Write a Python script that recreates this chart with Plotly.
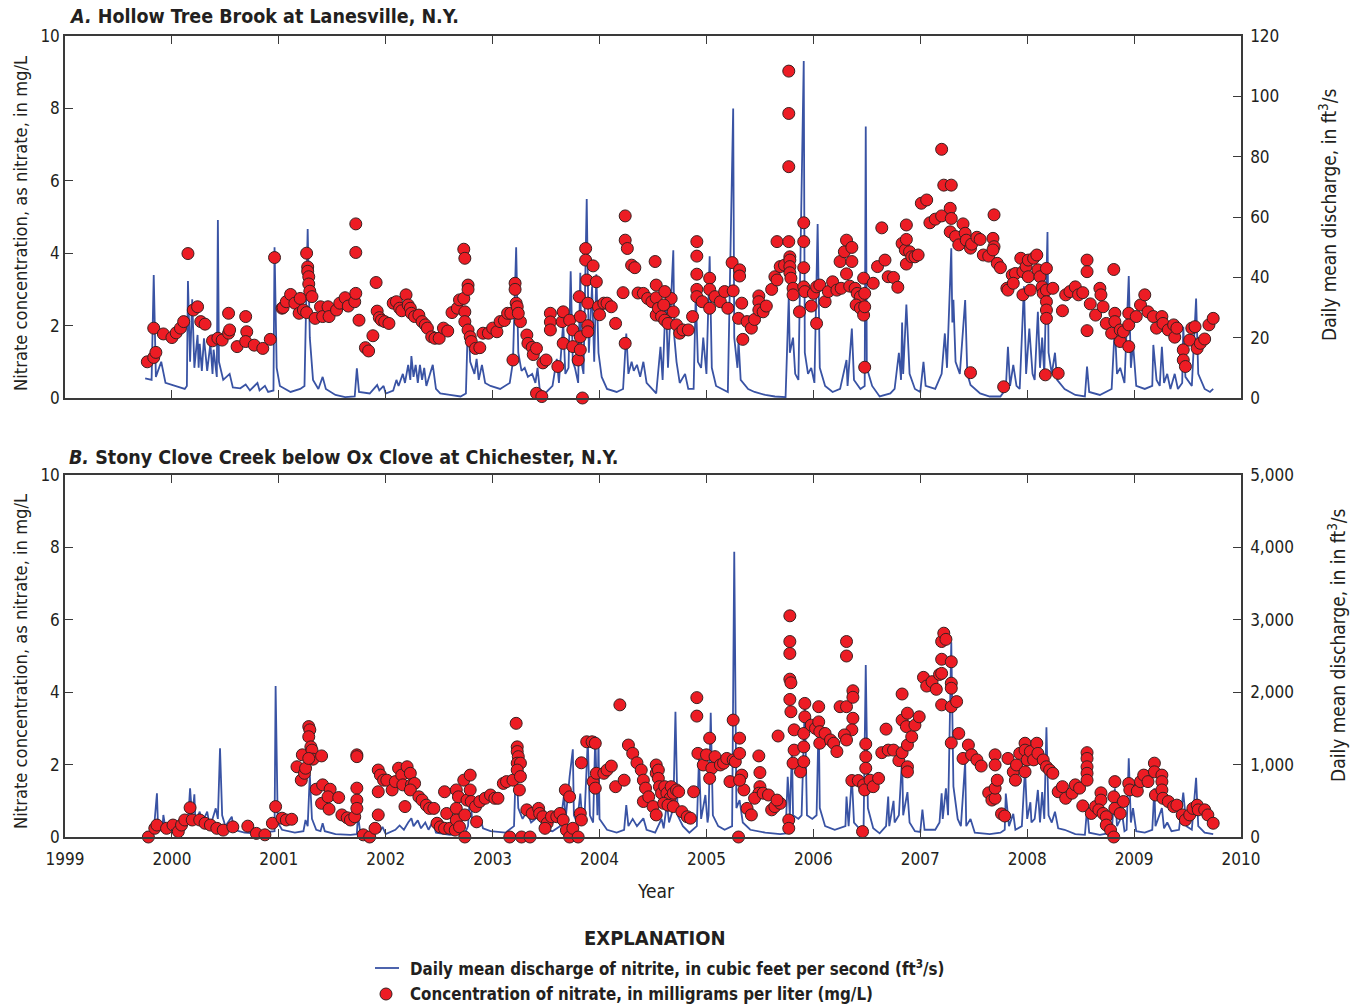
import plotly.graph_objects as go

FONT = "Liberation Sans Narrow, DejaVu Sans Condensed, Arial Narrow, sans-serif"
INK = "#231f20"
BLUE = "#3953a4"
RED = "#ed1c24"
EDGE = "#3a2020"

YEAR_TICKS = list(range(1999, 2011))
YEAR_LABELS = [str(y) for y in YEAR_TICKS]

# ---- A. Hollow Tree Brook at Lanesville: nitrate samples (decimal year, mg/L)
hollow_nitrate = [
    (1999.77, 1.00), (1999.83, 1.12), (1999.85, 1.26), (1999.83, 1.93), (1999.92, 1.77),
    (2000.00, 1.67), (2000.04, 1.80), (2000.08, 1.93), (2000.11, 2.11), (2000.15, 3.99),
    (2000.20, 2.43), (2000.24, 2.52), (2000.27, 2.11), (2000.31, 2.04), (2000.38, 1.58),
    (2000.43, 1.65), (2000.47, 1.60), (2000.53, 1.79), (2000.54, 1.88), (2000.53, 2.34),
    (2000.61, 1.42), (2000.69, 2.25), (2000.70, 1.83), (2000.69, 1.56), (2000.77, 1.46),
    (2000.85, 1.37), (2000.92, 1.62), (2000.96, 3.88), (2001.03, 2.48), (2001.04, 2.50),
    (2001.07, 2.66), (2001.11, 2.86), (2001.15, 2.62), (2001.19, 2.34), (2001.20, 2.75),
    (2001.23, 2.43), (2001.26, 2.36), (2001.26, 4.00), (2001.27, 3.62), (2001.27, 3.50),
    (2001.28, 3.35), (2001.28, 3.15), (2001.29, 2.95), (2001.31, 2.80), (2001.34, 2.20),
    (2001.39, 2.52), (2001.41, 2.25), (2001.46, 2.52), (2001.47, 2.25), (2001.54, 2.43),
    (2001.57, 2.62), (2001.62, 2.77), (2001.65, 2.54), (2001.71, 2.66), (2001.72, 2.89),
    (2001.72, 4.81), (2001.72, 4.02), (2001.75, 2.15), (2001.81, 1.39), (2001.84, 1.30),
    (2001.88, 1.72), (2001.91, 3.19), (2001.92, 2.40), (2001.94, 2.22), (2001.96, 2.15),
    (2001.99, 2.11), (2002.03, 2.06), (2002.07, 2.62), (2002.10, 2.66), (2002.13, 2.48),
    (2002.15, 2.41), (2002.19, 2.85), (2002.21, 2.57), (2002.23, 2.48), (2002.24, 2.34),
    (2002.27, 2.25), (2002.31, 2.29), (2002.34, 2.11), (2002.37, 2.02), (2002.39, 1.93),
    (2002.43, 1.69), (2002.46, 1.65), (2002.50, 1.65), (2002.54, 1.93), (2002.58, 1.85),
    (2002.62, 2.36), (2002.67, 2.48), (2002.69, 2.71), (2002.73, 4.11), (2002.74, 3.86),
    (2002.73, 2.75), (2002.74, 2.38), (2002.74, 2.11), (2002.77, 3.12), (2002.77, 3.00),
    (2002.77, 1.88), (2002.79, 1.69), (2002.80, 1.56), (2002.84, 1.37), (2002.88, 1.39),
    (2002.91, 1.79), (2002.96, 1.79), (2003.00, 1.93), (2003.04, 1.83), (2003.07, 2.11),
    (2003.11, 2.14), (2003.14, 2.34), (2003.17, 2.34), (2003.19, 1.05), (2003.21, 3.17),
    (2003.21, 3.00), (2003.22, 2.62), (2003.23, 2.52), (2003.26, 2.11), (2003.24, 2.34),
    (2003.32, 1.74), (2003.33, 1.51), (2003.37, 1.40), (2003.38, 1.20), (2003.41, 1.37),
    (2003.41, 0.13), (2003.46, 0.04), (2003.47, 0.97), (2003.50, 1.05), (2003.54, 2.34),
    (2003.54, 2.10), (2003.54, 1.88), (2003.61, 0.87), (2003.65, 2.11), (2003.66, 1.51),
    (2003.66, 2.38), (2003.72, 2.15), (2003.75, 1.88), (2003.75, 1.42), (2003.80, 1.05),
    (2003.81, 2.80), (2003.82, 2.25), (2003.82, 1.69), (2003.82, 1.33), (2003.84, 0.00),
    (2003.87, 4.13), (2003.87, 3.81), (2003.88, 3.26), (2003.89, 2.62), (2003.89, 2.00),
    (2003.89, 1.83), (2003.94, 3.65), (2003.97, 3.21), (2003.99, 2.52), (2004.00, 2.30),
    (2004.04, 2.62), (2004.07, 2.62), (2004.11, 2.52), (2004.15, 2.06), (2004.22, 2.91),
    (2004.24, 5.03), (2004.24, 4.36), (2004.26, 4.13), (2004.30, 3.67), (2004.33, 3.60),
    (2004.24, 1.51), (2004.36, 2.90), (2004.41, 2.89), (2004.45, 2.75), (2004.49, 2.66),
    (2004.52, 3.77), (2004.53, 3.12), (2004.53, 2.77), (2004.53, 2.29), (2004.55, 2.48),
    (2004.58, 2.25), (2004.61, 2.15), (2004.64, 2.06), (2004.67, 2.75), (2004.60, 2.57),
    (2004.61, 2.94), (2004.69, 2.38), (2004.72, 2.02), (2004.75, 1.79), (2004.78, 1.88),
    (2004.83, 1.88), (2004.87, 2.25), (2004.91, 4.32), (2004.91, 3.92), (2004.91, 3.42),
    (2004.91, 3.00), (2004.91, 2.80), (2004.96, 2.66), (2005.03, 3.31), (2005.03, 3.00),
    (2005.03, 2.48), (2005.08, 2.80), (2005.13, 2.66), (2005.17, 2.94), (2005.20, 2.48),
    (2005.25, 2.96), (2005.24, 3.74), (2005.31, 3.54), (2005.31, 3.37), (2005.33, 2.62),
    (2005.30, 2.20), (2005.34, 1.62), (2005.38, 2.11), (2005.42, 1.93), (2005.45, 2.17),
    (2005.49, 2.82), (2005.49, 2.66), (2005.49, 2.43), (2005.53, 2.38), (2005.56, 2.54),
    (2005.61, 3.00), (2005.64, 3.35), (2005.66, 3.26), (2005.66, 4.32), (2005.69, 3.63),
    (2005.73, 3.67), (2005.77, 9.03), (2005.77, 7.86), (2005.77, 6.39), (2005.77, 4.32),
    (2005.78, 3.90), (2005.78, 3.81), (2005.78, 3.63), (2005.78, 3.46), (2005.79, 3.31),
    (2005.81, 3.03), (2005.81, 2.85), (2005.87, 2.38), (2005.91, 4.84), (2005.91, 4.32),
    (2005.91, 3.60), (2005.91, 3.07), (2005.92, 2.94), (2005.98, 2.54), (2006.00, 2.89),
    (2006.03, 3.07), (2006.06, 3.12), (2006.03, 2.06), (2006.11, 2.66), (2006.14, 2.94),
    (2006.18, 3.21), (2006.22, 2.98), (2006.26, 3.03), (2006.25, 3.77), (2006.29, 4.04),
    (2006.31, 4.36), (2006.36, 4.16), (2006.36, 3.77), (2006.31, 3.43), (2006.34, 3.09),
    (2006.39, 3.03), (2006.41, 2.89), (2006.44, 2.80), (2006.40, 2.57), (2006.44, 2.48),
    (2006.47, 2.29), (2006.47, 3.31), (2006.48, 2.89), (2006.48, 2.52), (2006.48, 0.85),
    (2006.56, 3.17), (2006.60, 3.63), (2006.64, 4.70), (2006.67, 3.81), (2006.70, 3.35),
    (2006.75, 3.33), (2006.79, 3.06), (2006.83, 4.27), (2006.86, 4.09), (2006.87, 4.38),
    (2006.87, 4.78), (2006.90, 4.04), (2006.87, 3.70), (2006.92, 3.90), (2006.95, 3.90),
    (2006.98, 3.95), (2007.01, 5.38), (2007.06, 5.47), (2007.09, 4.84), (2007.14, 4.94),
    (2007.20, 6.87), (2007.20, 5.03), (2007.22, 5.88), (2007.29, 5.88), (2007.28, 5.24),
    (2007.29, 4.96), (2007.28, 4.59), (2007.33, 4.46), (2007.36, 4.23), (2007.40, 4.81),
    (2007.42, 4.55), (2007.43, 4.36), (2007.47, 4.14), (2007.48, 4.25), (2007.53, 4.44),
    (2007.56, 4.38), (2007.59, 3.95), (2007.64, 3.92), (2007.69, 5.06), (2007.68, 4.41),
    (2007.69, 4.18), (2007.68, 4.09), (2007.72, 3.72), (2007.75, 3.60), (2007.78, 0.31),
    (2007.47, 0.70), (2007.81, 3.03), (2007.82, 2.98), (2007.86, 3.40), (2007.89, 3.44),
    (2007.87, 3.17), (2007.94, 3.86), (2007.96, 2.85), (2007.96, 3.49), (2007.99, 3.63),
    (2008.01, 3.35), (2008.03, 2.98), (2008.01, 3.81), (2008.06, 3.86), (2008.09, 3.95),
    (2008.10, 3.54), (2008.12, 3.35), (2008.14, 3.07), (2008.15, 2.89), (2008.18, 3.58),
    (2008.18, 2.98), (2008.18, 2.66), (2008.18, 2.43), (2008.18, 2.20), (2008.17, 0.64),
    (2008.24, 3.03), (2008.29, 0.68), (2008.33, 2.41), (2008.36, 2.85), (2008.40, 2.94),
    (2008.45, 3.07), (2008.48, 2.85), (2008.52, 2.91), (2008.56, 3.81), (2008.56, 3.49),
    (2008.56, 1.86), (2008.59, 2.60), (2008.64, 2.29), (2008.68, 3.03), (2008.69, 2.85),
    (2008.71, 2.52), (2008.74, 2.06), (2008.79, 1.79), (2008.81, 3.55), (2008.82, 2.34),
    (2008.82, 2.11), (2008.87, 1.88), (2008.87, 1.56), (2008.90, 1.83), (2008.95, 2.34),
    (2008.95, 2.02), (2008.95, 1.42), (2009.02, 2.25), (2009.06, 2.57), (2009.10, 2.85),
    (2009.13, 2.38), (2009.18, 2.25), (2009.21, 1.93), (2009.26, 2.25), (2009.27, 2.06),
    (2009.32, 1.88), (2009.37, 2.02), (2009.38, 1.68), (2009.40, 1.93), (2009.46, 1.33),
    (2009.46, 1.05), (2009.48, 0.87), (2009.52, 1.60), (2009.54, 1.93), (2009.57, 1.97),
    (2009.59, 1.37), (2009.62, 1.51), (2009.66, 1.63), (2009.70, 2.02), (2009.74, 2.20),
]

# ---- A. Hollow Tree Brook: daily mean discharge (decimal year, ft3/s)
hollow_discharge = [
    (1999.75, 6.5), (1999.81, 6), (1999.83, 40.8), (1999.85, 7), (1999.90, 12), (1999.94, 5),
    (2000.03, 4), (2000.12, 3), (2000.14, 4), (2000.15, 38.8), (2000.17, 12), (2000.19, 32.7),
    (2000.21, 10), (2000.24, 20.9), (2000.25, 10), (2000.26, 18), (2000.28, 9), (2000.30, 19.8),
    (2000.33, 9), (2000.36, 18), (2000.38, 8), (2000.39, 16), (2000.42, 7), (2000.43, 59),
    (2000.44, 12), (2000.48, 6), (2000.54, 8), (2000.57, 3.5), (2000.64, 3.2), (2000.69, 4.5),
    (2000.73, 2.5), (2000.80, 5), (2000.82, 2.5), (2000.87, 4), (2000.90, 2), (2000.95, 2.5),
    (2000.96, 50), (2000.98, 10), (2001.01, 4), (2001.11, 2), (2001.20, 3), (2001.24, 4),
    (2001.27, 56), (2001.29, 20), (2001.32, 6), (2001.37, 3), (2001.41, 7), (2001.44, 3),
    (2001.53, 1), (2001.62, 0.3), (2001.71, 0.5), (2001.73, 9.8), (2001.75, 2), (2001.85, 1.5),
    (2001.92, 4.3), (2001.94, 2.5), (2001.98, 4), (2002.00, 1.5), (2002.07, 2.5), (2002.10, 6),
    (2002.12, 4), (2002.16, 8), (2002.18, 5), (2002.21, 11), (2002.23, 6), (2002.24, 13.9),
    (2002.26, 7), (2002.28, 11), (2002.30, 5), (2002.32, 11), (2002.34, 6), (2002.36, 10),
    (2002.38, 4), (2002.44, 11), (2002.47, 3), (2002.51, 1.5), (2002.60, 1), (2002.70, 0.5),
    (2002.75, 1.5), (2002.77, 27), (2002.79, 12), (2002.83, 8), (2002.85, 13), (2002.87, 6),
    (2002.90, 11), (2002.93, 5), (2002.98, 4), (2003.07, 3), (2003.16, 5), (2003.19, 12),
    (2003.22, 50), (2003.24, 15), (2003.27, 9), (2003.30, 10), (2003.33, 7), (2003.37, 8),
    (2003.40, 5), (2003.42, 10), (2003.44, 3), (2003.49, 1.5), (2003.56, 4), (2003.60, 13),
    (2003.62, 5), (2003.66, 25), (2003.68, 8), (2003.71, 10), (2003.73, 42), (2003.75, 12),
    (2003.77, 10), (2003.80, 5), (2003.82, 41.5), (2003.83, 12), (2003.85, 8), (2003.88, 66),
    (2003.90, 15), (2003.93, 37), (2003.95, 12), (2003.97, 41), (2003.99, 15), (2004.02, 7),
    (2004.07, 3), (2004.16, 2), (2004.22, 3), (2004.25, 21.4), (2004.27, 8), (2004.30, 12),
    (2004.32, 9), (2004.35, 11), (2004.38, 7), (2004.41, 12), (2004.44, 5), (2004.49, 3),
    (2004.53, 1.5), (2004.57, 17), (2004.59, 6), (2004.62, 34), (2004.64, 10), (2004.69, 49),
    (2004.70, 20), (2004.72, 12), (2004.75, 5), (2004.80, 8), (2004.83, 3), (2004.88, 3),
    (2004.90, 34.7), (2004.92, 12), (2004.95, 10), (2004.97, 20), (2005.00, 8), (2005.03, 47),
    (2005.05, 10), (2005.09, 4), (2005.15, 3), (2005.20, 2), (2005.25, 96), (2005.26, 20),
    (2005.29, 10), (2005.30, 19), (2005.32, 6), (2005.39, 3), (2005.45, 2), (2005.55, 1),
    (2005.64, 0.5), (2005.74, 0.3), (2005.77, 33.6), (2005.78, 15), (2005.81, 20), (2005.83, 8),
    (2005.86, 6), (2005.91, 111.7), (2005.92, 15), (2005.95, 8), (2005.98, 10), (2006.01, 5),
    (2006.04, 57.7), (2006.06, 10), (2006.11, 4), (2006.18, 2), (2006.25, 3), (2006.31, 12.6),
    (2006.32, 4), (2006.36, 23), (2006.38, 6), (2006.44, 3), (2006.48, 4), (2006.49, 90),
    (2006.50, 10), (2006.55, 4), (2006.62, 0.5), (2006.72, 1.5), (2006.76, 3), (2006.80, 15),
    (2006.82, 6), (2006.83, 25), (2006.84, 8), (2006.87, 31), (2006.90, 8), (2006.95, 3),
    (2007.00, 2), (2007.03, 12), (2007.05, 4), (2007.14, 3), (2007.20, 8), (2007.23, 21.4),
    (2007.25, 10), (2007.29, 49.6), (2007.30, 25), (2007.31, 32.6), (2007.33, 12), (2007.37, 8),
    (2007.42, 32.5), (2007.44, 8), (2007.47, 4.3), (2007.56, 1.5), (2007.65, 0.5), (2007.75, 0.5),
    (2007.80, 3), (2007.82, 17), (2007.84, 4), (2007.87, 11), (2007.90, 4), (2007.93, 3),
    (2007.97, 37), (2007.99, 8), (2008.02, 23), (2008.05, 8), (2008.07, 6), (2008.10, 28.6),
    (2008.12, 10), (2008.14, 20), (2008.16, 8), (2008.19, 55), (2008.20, 15), (2008.23, 8),
    (2008.26, 15), (2008.28, 6), (2008.35, 3), (2008.45, 1), (2008.54, 0.5), (2008.56, 10.4),
    (2008.58, 2), (2008.68, 1), (2008.79, 3), (2008.82, 24), (2008.84, 8), (2008.87, 10),
    (2008.91, 5), (2008.95, 40.4), (2008.97, 10), (2008.99, 18), (2009.02, 4), (2009.10, 3),
    (2009.17, 4), (2009.18, 17.6), (2009.21, 6), (2009.24, 4), (2009.26, 17), (2009.28, 5),
    (2009.31, 8), (2009.34, 3), (2009.38, 8), (2009.41, 3), (2009.45, 5), (2009.46, 23.6),
    (2009.48, 7), (2009.54, 4), (2009.58, 33), (2009.60, 8), (2009.66, 3), (2009.71, 2),
    (2009.74, 3),
]

# ---- B. Stony Clove Creek below Ox Clove: nitrate samples (decimal year, mg/L)
stony_nitrate = [
    (1999.78, 0.00), (1999.84, 0.24), (1999.86, 0.33), (1999.95, 0.24), (2000.01, 0.33),
    (2000.06, 0.15), (2000.09, 0.33), (2000.12, 0.47), (2000.17, 0.81), (2000.19, 0.47),
    (2000.26, 0.47), (2000.31, 0.38), (2000.36, 0.33), (2000.42, 0.24), (2000.48, 0.19),
    (2000.57, 0.28), (2000.71, 0.30), (2000.79, 0.10), (2000.87, 0.06), (2000.94, 0.38),
    (2000.97, 0.84), (2001.03, 0.52), (2001.07, 0.47), (2001.12, 0.49), (2001.17, 1.94),
    (2001.21, 1.57), (2001.24, 1.76), (2001.25, 1.90), (2001.22, 2.27), (2001.28, 3.05),
    (2001.29, 2.96), (2001.28, 2.77), (2001.30, 2.49), (2001.31, 2.40), (2001.32, 2.15),
    (2001.28, 2.17), (2001.40, 2.24), (2001.35, 1.32), (2001.41, 1.44), (2001.48, 1.32),
    (2001.40, 0.93), (2001.47, 0.77), (2001.46, 1.11), (2001.56, 1.09), (2001.59, 0.61),
    (2001.64, 0.53), (2001.67, 0.47), (2001.71, 0.56), (2001.73, 2.27), (2001.73, 2.22),
    (2001.73, 1.35), (2001.73, 1.02), (2001.73, 0.79), (2001.79, 0.06), (2001.85, 0.00),
    (2001.90, 0.24), (2001.93, 0.61), (2001.93, 1.25), (2001.93, 1.85), (2001.95, 1.71),
    (2001.98, 1.57), (2002.01, 1.57), (2002.06, 1.30), (2002.09, 1.53), (2002.12, 1.90),
    (2002.15, 1.71), (2002.16, 1.44), (2002.20, 1.94), (2002.23, 1.76), (2002.24, 1.44),
    (2002.27, 1.48), (2002.18, 0.84), (2002.23, 1.30), (2002.31, 1.11), (2002.34, 1.02),
    (2002.38, 0.88), (2002.41, 0.79), (2002.45, 0.79), (2002.48, 0.38), (2002.51, 0.28),
    (2002.55, 0.24), (2002.57, 0.65), (2002.55, 1.25), (2002.60, 0.24), (2002.65, 0.19),
    (2002.66, 1.30), (2002.68, 1.11), (2002.66, 0.79), (2002.66, 0.47), (2002.69, 0.28),
    (2002.73, 1.57), (2002.74, 0.61), (2002.76, 1.02), (2002.79, 1.71), (2002.79, 1.30),
    (2002.74, 0.00), (2002.80, 0.98), (2002.85, 0.42), (2002.84, 0.84), (2002.88, 0.98),
    (2002.93, 1.07), (2002.98, 1.16), (2003.02, 1.07), (2003.05, 1.07), (2003.10, 1.48),
    (2003.13, 1.53), (2003.19, 1.57), (2003.16, 0.00), (2003.22, 3.14), (2003.23, 2.49),
    (2003.23, 2.36), (2003.24, 2.22), (2003.23, 2.04), (2003.26, 2.04), (2003.23, 1.85),
    (2003.26, 1.67), (2003.25, 1.30), (2003.27, 0.00), (2003.35, 0.00), (2003.32, 0.75),
    (2003.37, 0.65), (2003.43, 0.79), (2003.44, 0.65), (2003.47, 0.56), (2003.51, 0.38),
    (2003.49, 0.24), (2003.55, 0.56), (2003.60, 0.56), (2003.63, 0.65), (2003.68, 1.30),
    (2003.72, 1.11), (2003.66, 0.47), (2003.69, 0.19), (2003.72, 0.00), (2003.75, 0.24),
    (2003.80, 0.00), (2003.82, 0.65), (2003.83, 0.47), (2003.83, 2.05), (2003.88, 2.63),
    (2003.93, 2.63), (2003.96, 2.59), (2003.94, 1.53), (2003.96, 1.35), (2003.97, 1.76),
    (2004.04, 1.76), (2004.07, 1.85), (2004.11, 1.96), (2004.15, 1.39), (2004.23, 1.57),
    (2004.19, 3.65), (2004.27, 2.54), (2004.31, 2.31), (2004.35, 2.05), (2004.39, 1.85),
    (2004.41, 1.57), (2004.43, 1.35), (2004.41, 0.98), (2004.46, 1.11), (2004.50, 0.84),
    (2004.53, 0.61), (2004.53, 1.99), (2004.53, 1.76), (2004.55, 1.85), (2004.55, 1.62),
    (2004.56, 1.39), (2004.58, 1.21), (2004.61, 1.39), (2004.63, 1.21), (2004.66, 1.07),
    (2004.67, 1.39), (2004.69, 1.21), (2004.72, 1.30), (2004.74, 1.25), (2004.60, 0.93),
    (2004.64, 0.88), (2004.69, 0.84), (2004.77, 0.70), (2004.82, 0.56), (2004.85, 0.52),
    (2004.88, 1.25), (2004.91, 3.85), (2004.91, 3.34), (2004.92, 2.31), (2004.97, 1.99),
    (2005.00, 2.27), (2005.03, 2.73), (2005.05, 1.90), (2005.03, 1.62), (2005.08, 2.22),
    (2005.13, 1.99), (2005.16, 2.04), (2005.19, 2.17), (2005.22, 1.53), (2005.25, 3.23),
    (2005.25, 2.13), (2005.27, 2.08), (2005.31, 2.73), (2005.31, 2.31), (2005.33, 1.71),
    (2005.35, 1.30), (2005.31, 1.57), (2005.30, 0.00), (2005.38, 0.79), (2005.42, 0.61),
    (2005.49, 2.24), (2005.50, 1.78), (2005.50, 1.39), (2005.49, 1.21), (2005.45, 1.07),
    (2005.53, 1.21), (2005.58, 1.16), (2005.61, 0.75), (2005.64, 0.84), (2005.69, 0.93),
    (2005.66, 1.02), (2005.67, 2.79), (2005.77, 0.47), (2005.77, 0.24), (2005.78, 6.11),
    (2005.78, 5.40), (2005.78, 5.07), (2005.78, 4.36), (2005.79, 4.26), (2005.78, 3.80),
    (2005.79, 3.46), (2005.82, 2.96), (2005.82, 2.40), (2005.81, 2.04), (2005.88, 1.80),
    (2005.91, 2.08), (2005.91, 2.49), (2005.91, 2.86), (2005.92, 3.32), (2005.92, 3.69),
    (2005.98, 3.09), (2006.02, 3.00), (2006.05, 3.60), (2006.05, 3.18), (2006.06, 2.91),
    (2006.06, 2.59), (2006.11, 2.86), (2006.16, 2.68), (2006.19, 2.59), (2006.22, 2.36),
    (2006.25, 3.60), (2006.31, 3.60), (2006.31, 5.40), (2006.31, 5.00), (2006.37, 4.04),
    (2006.37, 3.86), (2006.37, 3.28), (2006.36, 2.96), (2006.29, 2.82), (2006.31, 2.68),
    (2006.36, 1.56), (2006.42, 1.56), (2006.47, 1.44), (2006.48, 1.30), (2006.46, 0.15),
    (2006.49, 2.57), (2006.49, 2.22), (2006.49, 1.90), (2006.53, 1.57), (2006.56, 1.39),
    (2006.61, 1.62), (2006.64, 2.33), (2006.68, 2.98), (2006.70, 2.40), (2006.75, 2.40),
    (2006.80, 2.11), (2006.83, 2.33), (2006.83, 3.95), (2006.83, 3.23), (2006.87, 3.05),
    (2006.88, 3.42), (2006.88, 2.54), (2006.88, 1.94), (2006.88, 1.80), (2006.92, 2.77),
    (2006.95, 3.09), (2006.99, 3.32), (2007.03, 4.41), (2007.06, 4.17), (2007.11, 4.29),
    (2007.15, 4.08), (2007.18, 4.49), (2007.20, 3.65), (2007.20, 5.40), (2007.22, 5.63),
    (2007.24, 5.46), (2007.20, 4.91), (2007.29, 4.84), (2007.29, 4.25), (2007.29, 4.11),
    (2007.29, 3.60), (2007.29, 2.60), (2007.34, 3.74), (2007.36, 2.86), (2007.20, 4.52),
    (2007.40, 2.17), (2007.45, 2.54), (2007.48, 2.27), (2007.53, 2.13), (2007.57, 1.96),
    (2007.64, 1.22), (2007.67, 1.02), (2007.70, 1.07), (2007.70, 1.35), (2007.72, 1.57),
    (2007.70, 2.27), (2007.70, 1.99), (2007.76, 0.64), (2007.79, 0.58), (2007.82, 2.17),
    (2007.87, 1.80), (2007.89, 1.57), (2007.90, 1.99), (2007.93, 2.31), (2007.98, 2.59),
    (2007.98, 2.40), (2008.00, 2.13), (2007.98, 1.80), (2008.03, 2.36), (2008.06, 2.13),
    (2008.09, 2.59), (2008.10, 2.31), (2008.15, 2.13), (2008.18, 1.94), (2008.21, 1.85),
    (2008.24, 1.76), (2008.29, 1.25), (2008.33, 1.39), (2008.36, 1.07), (2008.42, 1.21),
    (2008.45, 1.44), (2008.49, 1.35), (2008.52, 0.86), (2008.56, 2.33), (2008.56, 2.17),
    (2008.56, 1.94), (2008.56, 1.76), (2008.56, 1.57), (2008.60, 0.65), (2008.64, 0.84),
    (2008.69, 1.22), (2008.69, 1.02), (2008.67, 0.75), (2008.71, 0.65), (2008.74, 0.56),
    (2008.74, 0.33), (2008.78, 0.19), (2008.81, 0.00), (2008.82, 1.53), (2008.81, 1.11),
    (2008.82, 0.79), (2008.87, 0.65), (2008.90, 0.98), (2008.95, 1.48), (2008.96, 1.30),
    (2009.03, 1.27), (2009.06, 1.53), (2009.09, 1.71), (2009.13, 1.53), (2009.19, 2.04),
    (2009.19, 1.80), (2009.20, 1.16), (2009.26, 1.71), (2009.26, 1.53), (2009.26, 1.30),
    (2009.27, 1.07), (2009.32, 0.98), (2009.37, 0.84), (2009.40, 0.88), (2009.45, 0.61),
    (2009.48, 0.47), (2009.52, 0.61), (2009.55, 0.79), (2009.59, 0.88), (2009.60, 0.75),
    (2009.66, 0.75), (2009.69, 0.61), (2009.74, 0.38),
]

# ---- B. Stony Clove Creek: daily mean discharge (decimal year, ft3/s)
stony_discharge = [
    (1999.76, 73), (1999.80, 60), (1999.83, 80), (1999.86, 603), (1999.87, 150), (1999.91, 100),
    (1999.92, 304), (1999.94, 120), (2000.03, 80), (2000.12, 100), (2000.15, 200), (2000.17, 672),
    (2000.19, 250), (2000.21, 590), (2000.22, 200), (2000.26, 350), (2000.28, 180), (2000.33, 350),
    (2000.35, 180), (2000.38, 250), (2000.41, 396), (2000.43, 250), (2000.45, 1225), (2000.47, 300),
    (2000.50, 150), (2000.56, 280), (2000.58, 100), (2000.68, 60), (2000.78, 50), (2000.87, 60),
    (2000.96, 80), (2000.97, 2085), (2000.99, 200), (2001.03, 100), (2001.15, 60), (2001.23, 80),
    (2001.25, 235), (2001.27, 150), (2001.29, 856), (2001.31, 250), (2001.35, 100), (2001.39, 80),
    (2001.41, 189), (2001.43, 80), (2001.53, 40), (2001.67, 30), (2001.73, 40), (2001.74, 304),
    (2001.76, 80), (2001.85, 50), (2001.91, 150), (2001.94, 60), (2001.97, 140), (2002.00, 40),
    (2002.09, 100), (2002.13, 160), (2002.17, 100), (2002.21, 200), (2002.24, 258), (2002.26, 150),
    (2002.30, 230), (2002.33, 120), (2002.37, 200), (2002.40, 100), (2002.44, 210), (2002.47, 60),
    (2002.60, 30), (2002.74, 50), (2002.77, 150), (2002.79, 612), (2002.81, 200), (2002.85, 150),
    (2002.88, 280), (2002.91, 120), (2002.98, 80), (2003.12, 60), (2003.20, 150), (2003.22, 1119),
    (2003.24, 400), (2003.28, 250), (2003.32, 350), (2003.36, 200), (2003.40, 250), (2003.44, 350),
    (2003.47, 100), (2003.56, 80), (2003.63, 150), (2003.67, 607), (2003.68, 200), (2003.72, 833),
    (2003.75, 1211), (2003.76, 300), (2003.79, 200), (2003.82, 600), (2003.84, 200), (2003.86, 300),
    (2003.89, 1340), (2003.91, 300), (2003.94, 200), (2003.96, 1395), (2003.98, 300), (2003.99, 1340),
    (2004.00, 250), (2004.07, 100), (2004.16, 60), (2004.23, 100), (2004.25, 442), (2004.27, 150),
    (2004.31, 250), (2004.35, 150), (2004.41, 258), (2004.44, 100), (2004.52, 60), (2004.58, 250),
    (2004.60, 120), (2004.63, 465), (2004.65, 200), (2004.69, 400), (2004.71, 1730), (2004.73, 300),
    (2004.78, 150), (2004.84, 60), (2004.91, 150), (2004.93, 1087), (2004.95, 250), (2004.99, 580),
    (2005.01, 200), (2005.02, 300), (2005.04, 1717), (2005.06, 300), (2005.11, 150), (2005.17, 100),
    (2005.24, 150), (2005.26, 3940), (2005.28, 400), (2005.31, 510), (2005.34, 200), (2005.41, 100),
    (2005.55, 60), (2005.69, 40), (2005.74, 50), (2005.76, 833), (2005.78, 300), (2005.80, 1201),
    (2005.81, 300), (2005.86, 250), (2005.89, 300), (2005.92, 1846), (2005.94, 300), (2005.99, 250),
    (2006.03, 300), (2006.05, 1661), (2006.06, 400), (2006.11, 150), (2006.20, 100), (2006.30, 150),
    (2006.31, 560), (2006.33, 150), (2006.36, 833), (2006.38, 200), (2006.44, 100), (2006.47, 150),
    (2006.49, 2375), (2006.51, 400), (2006.56, 120), (2006.62, 50), (2006.68, 150), (2006.70, 560),
    (2006.71, 150), (2006.75, 500), (2006.76, 200), (2006.80, 300), (2006.83, 1087), (2006.84, 300),
    (2006.88, 620), (2006.90, 200), (2006.95, 80), (2007.00, 70), (2007.02, 380), (2007.04, 100),
    (2007.14, 100), (2007.18, 200), (2007.20, 603), (2007.21, 250), (2007.24, 672), (2007.26, 300),
    (2007.29, 2690), (2007.31, 700), (2007.35, 250), (2007.38, 150), (2007.42, 1040), (2007.43, 150),
    (2007.47, 250), (2007.51, 60), (2007.65, 40), (2007.75, 60), (2007.79, 100), (2007.80, 600),
    (2007.83, 150), (2007.87, 320), (2007.89, 100), (2007.95, 150), (2007.98, 949), (2008.00, 250),
    (2008.03, 480), (2008.04, 200), (2008.07, 250), (2008.10, 650), (2008.12, 200), (2008.14, 620),
    (2008.16, 250), (2008.18, 1515), (2008.20, 300), (2008.23, 200), (2008.26, 350), (2008.29, 120),
    (2008.35, 100), (2008.45, 40), (2008.54, 30), (2008.56, 396), (2008.58, 60), (2008.68, 30),
    (2008.79, 60), (2008.82, 672), (2008.84, 150), (2008.89, 300), (2008.91, 80), (2008.93, 100),
    (2008.95, 1087), (2008.97, 200), (2008.99, 400), (2009.02, 80), (2009.10, 60), (2009.17, 100),
    (2009.19, 672), (2009.20, 150), (2009.26, 400), (2009.28, 120), (2009.31, 200), (2009.35, 80),
    (2009.42, 100), (2009.46, 612), (2009.49, 150), (2009.54, 100), (2009.58, 819), (2009.60, 150),
    (2009.66, 60), (2009.74, 40),
]

HOLLOW_Q_TICKS = [0, 20, 40, 60, 80, 100, 120]
STONY_Q_TICKS = [0, 1000, 2000, 3000, 4000, 5000]
NITRATE_TICKS = [0, 2, 4, 6, 8, 10]


def unzip(pairs):
    return [p[0] for p in pairs], [p[1] for p in pairs]


fig = go.Figure()

# discharge lines sit on the base (right-hand) axes so the nitrate markers draw on top
for pairs, xa, ya in ((hollow_discharge, "x", "y"), (stony_discharge, "x2", "y3")):
    xs, ys = unzip(pairs)
    fig.add_trace(go.Scatter(
        x=xs, y=ys, mode="lines", xaxis=xa, yaxis=ya,
        line=dict(color=BLUE, width=1.8), showlegend=False, hoverinfo="skip",
    ))

for pairs, xa, ya in ((hollow_nitrate, "x", "y2"), (stony_nitrate, "x2", "y4")):
    xs, ys = unzip(pairs)
    fig.add_trace(go.Scatter(
        x=xs, y=ys, mode="markers", xaxis=xa, yaxis=ya,
        marker=dict(size=12, color=RED, line=dict(color=EDGE, width=1)),
        cliponaxis=False, showlegend=False, hoverinfo="skip",
    ))

W, H = 1360, 1005
TOP = [1 - 398 / H, 1 - 36 / H]
BOT = [1 - 837 / H, 1 - 475 / H]

tick_font = dict(family=FONT, size=17, color=INK)
axis_common = dict(
    showline=True, linecolor="#3a3a3a", linewidth=1.5, ticks="inside", ticklen=8,
    tickwidth=1.3, tickcolor="#3a3a3a", showgrid=False, zeroline=False,
    tickfont=tick_font, automargin=False,
)

layout = dict(
    width=W, height=H, paper_bgcolor="white", plot_bgcolor="white",
    margin=dict(l=65, r=119, t=0, b=0, autoexpand=False),
    font=dict(family=FONT, color=INK),
    xaxis=dict(axis_common, domain=[0, 1], range=[1999, 2010], anchor="y",
               tickvals=YEAR_TICKS, ticktext=YEAR_LABELS, showticklabels=False,
               mirror="ticks"),
    xaxis2=dict(axis_common, domain=[0, 1], range=[1999, 2010], anchor="y3",
                tickvals=YEAR_TICKS, ticktext=YEAR_LABELS, mirror="ticks",
                ticklabelstandoff=6),
    yaxis=dict(axis_common, domain=TOP, range=[0, 120], side="right", anchor="x",
               tickvals=HOLLOW_Q_TICKS, ticklabelstandoff=4),
    yaxis2=dict(axis_common, range=[0, 10], side="left", overlaying="y", anchor="x",
                tickvals=NITRATE_TICKS),
    yaxis3=dict(axis_common, domain=BOT, range=[0, 5000], side="right", anchor="x2",
                tickvals=STONY_Q_TICKS, tickformat=",", ticklabelstandoff=4),
    yaxis4=dict(axis_common, range=[0, 10], side="left", overlaying="y3", anchor="x2",
                tickvals=NITRATE_TICKS),
)
fig.update_layout(**layout)


def px_x(p):
    return (p - 65) / (W - 65 - 119)


def px_y(p):
    return 1 - p / H


ann = []
ann.append(dict(text="<b><i>A.</i> Hollow Tree Brook at Lanesville, N.Y.</b>",
                x=px_x(67), y=px_y(17), xanchor="left", yanchor="middle",
                font=dict(size=19.5)))
ann.append(dict(text="<b><i>B.</i> Stony Clove Creek below Ox Clove at Chichester, N.Y.</b>",
                x=px_x(67), y=px_y(457), xanchor="left", yanchor="middle",
                font=dict(size=19.5)))
ann.append(dict(text="Nitrate concentration, as nitrate, in mg/L", textangle=-90,
                x=px_x(20), y=px_y(223), xanchor="center", yanchor="middle",
                font=dict(size=18.2)))
ann.append(dict(text="Nitrate concentration, as nitrate, in mg/L", textangle=-90,
                x=px_x(20), y=px_y(661), xanchor="center", yanchor="middle",
                font=dict(size=18.2)))
ann.append(dict(text="Daily mean discharge, in ft<sup>3</sup>/s", textangle=-90,
                x=px_x(1328), y=px_y(215), xanchor="center", yanchor="middle",
                font=dict(size=19)))
ann.append(dict(text="Daily mean discharge, in in ft<sup>3</sup>/s", textangle=-90,
                x=px_x(1337), y=px_y(645), xanchor="center", yanchor="middle",
                font=dict(size=19)))
ann.append(dict(text="Year", x=px_x(656), y=px_y(891), xanchor="center",
                yanchor="middle", font=dict(size=19)))
ann.append(dict(text="<b>EXPLANATION</b>", x=px_x(655), y=px_y(938), xanchor="center",
                yanchor="middle", font=dict(size=20)))
ann.append(dict(text="<b>Daily mean discharge of nitrite, in cubic feet per second (ft<sup>3</sup>/s)</b>",
                x=px_x(408), y=px_y(968), xanchor="left", yanchor="middle",
                font=dict(size=16.8)))
ann.append(dict(text="<b>Concentration of nitrate, in milligrams per liter (mg/L)</b>",
                x=px_x(408), y=px_y(994), xanchor="left", yanchor="middle",
                font=dict(size=16.8)))
for a in ann:
    a.update(xref="paper", yref="paper", showarrow=False)
fig.update_layout(annotations=ann)

fig.update_layout(shapes=[
    dict(type="line", xref="paper", yref="paper", x0=px_x(375), x1=px_x(399),
         y0=px_y(968), y1=px_y(968), line=dict(color=BLUE, width=1.8)),
    dict(type="circle", xref="paper", yref="paper", x0=px_x(380), x1=px_x(392),
         y0=px_y(1000), y1=px_y(988), fillcolor=RED, line=dict(color=EDGE, width=1)),
])

fig.write_html("out.html")
